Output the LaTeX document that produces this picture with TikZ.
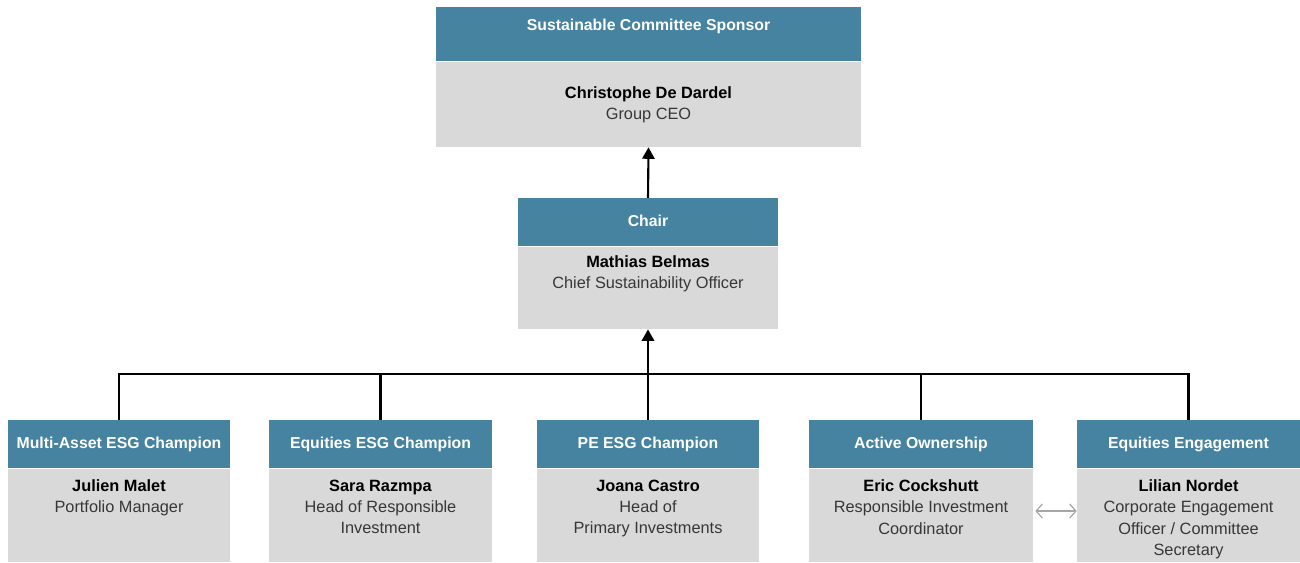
\documentclass[tikz,border=0pt]{standalone}
\usepackage{fontspec}
\setmainfont{Liberation Sans}
\usetikzlibrary{arrows, arrows.meta, positioning}
\definecolor{headblue}{RGB}{69,131,160}
\definecolor{boxgray}{RGB}{217,217,217}
\definecolor{roletext}{RGB}{55,55,55}
\newcommand{\pname}[1]{\textcolor{black}{\bfseries #1}}
\tikzset{>={Triangle[length=6.5pt, width=7pt]}}

\begin{document}
\begin{tikzpicture}[x=0.02cm, y=0.02cm, font=\fontsize{9.3}{12}\selectfont,
  head/.style={fill=headblue, text=white, font=\fontsize{9}{12}\selectfont\bfseries, inner sep=0pt, anchor=north, text height=7pt, text depth=2pt},
  body/.style={fill=boxgray, inner sep=0pt},
  info/.style={align=center, inner sep=0pt, text=roletext},
  link/.style={line width=1.2pt},
  duo/.style={draw=black!35, line width=0.7pt, >={Straight Barb[length=3.5pt, width=8pt]}}]
\useasboundingbox (0,0) rectangle (1300,563);
% top
\node[head, minimum width=8.5cm, minimum height=1.08cm, text depth=11pt] (sponH) at (648.5,556) {Sustainable Committee Sponsor};
\node[body, below=0pt of sponH, minimum width=8.5cm, minimum height=1.7cm] (sponB) {};
\node[info] (sponT) at (sponB.center) {\pname{Christophe De Dardel}\\Group CEO};
% chair
\node[head, minimum width=5.22cm, minimum height=0.96cm] (chairH) at (648,365) {Chair};
\node[body, below=0pt of chairH, minimum width=5.22cm, minimum height=1.64cm] (chairB) {};
\node[info, below=0.18cm of chairB.north] (chairT) {\pname{Mathias Belmas}\\Chief Sustainability Officer};
% champions
\node[head, minimum width=4.44cm, minimum height=0.96cm] (maH) at (119,143) {Multi-Asset ESG Champion};
\node[body, below=0pt of maH, minimum width=4.44cm, minimum height=1.86cm] (maB) {};
\node[info, below=0.22cm of maB.north] (maT) {\pname{Julien Malet}\\Portfolio Manager};
\node[head, minimum width=4.46cm, minimum height=0.96cm] (eqH) at (380.5,143) {Equities ESG Champion};
\node[body, below=0pt of eqH, minimum width=4.46cm, minimum height=1.86cm] (eqB) {};
\node[info, below=0.22cm of eqB.north] (eqT) {\pname{Sara Razmpa}\\Head of Responsible\\Investment};
\node[head, minimum width=4.46cm, minimum height=0.96cm] (peH) at (648,143) {PE ESG Champion};
\node[body, below=0pt of peH, minimum width=4.46cm, minimum height=1.86cm] (peB) {};
\node[info, below=0.22cm of peB.north] (peT) {\pname{Joana Castro}\\Head of\\Primary Investments};
\node[head, minimum width=4.48cm, minimum height=0.96cm] (aoH) at (921,143) {Active Ownership};
\node[body, below=0pt of aoH, minimum width=4.48cm, minimum height=1.86cm] (aoB) {};
\node[info, below=0.22cm of aoB.north] (aoT) {\pname{Eric Cockshutt}\\Responsible Investment\\Coordinator};
\node[head, minimum width=4.46cm, minimum height=0.96cm] (eeH) at (1188.5,143) {Equities Engagement};
\node[body, below=0pt of eeH, minimum width=4.46cm, minimum height=1.86cm] (eeB) {};
\node[info, below=0.22cm of eeB.north] (eeT) {\pname{Lilian Nordet}\\Corporate Engagement\\Officer / Committee\\Secretary};
% links
\coordinate (bus) at (648,189);
\draw[link] (maH.north) |- (bus) -| (eeH.north);
\draw[link] (eqH.north) -- (eqH.north |- bus);
\draw[link] (aoH.north) -- (aoH.north |- bus);
\draw[link, ->] (peH.north) -- (chairB.south);
\draw[link, ->] (chairH.north) -- (sponB.south);
\draw[duo, <->] ([xshift=0.04cm, yshift=0.09cm]aoB.east) -- ([yshift=0.09cm]eeB.west);
\end{tikzpicture}
\end{document}
